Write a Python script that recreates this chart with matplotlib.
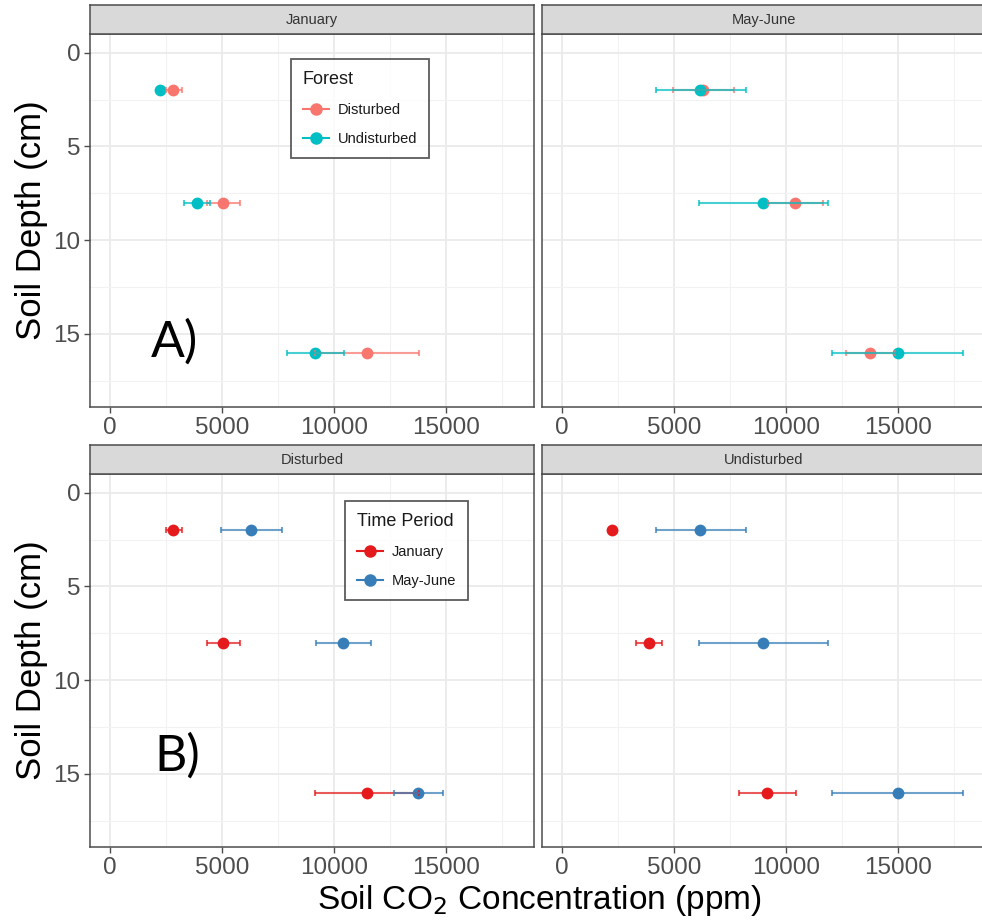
import numpy as np
import matplotlib
matplotlib.use("Agg")
import matplotlib.pyplot as plt
from matplotlib.lines import Line2D

plt.rcParams['font.family'] = ['Liberation Sans', 'DejaVu Sans']

# ---------------- data ----------------
depths = [2, 8, 16]
x_ticks = [0, 5000, 10000, 15000]
y_ticks = [0, 5, 10, 15]

dist_jan = [2806, 5060, 11493]
dist_jan_lo = [2480, 4328, 9179]
dist_jan_hi = [3200, 5806, 13791]

undist_jan = [2240, 3880, 9170]
undist_jan_lo = [np.nan, 3290, 7890]
undist_jan_hi = [np.nan, 4470, 10455]

dist_may = [6310, 10410, 13770]
dist_may_lo = [4945, 9200, 12670]
dist_may_hi = [7670, 11660, 14870]

undist_may = [6184, 8985, 15000]
undist_may_lo = [4177, 6125, 12071]
undist_may_hi = [8221, 11877, 17928]

forest_levels = ["Disturbed", "Undisturbed"]
period_levels = ["January", "May-June"]
forest_colors = ["#F8766D", "#00BFC4"]
period_colors = ["#E41A1C", "#377EB8"]

# ---------------- figure ----------------
W, H = 982, 924
fig = plt.figure(figsize=(W / 100, H / 100), dpi=100)

def px_axes(x0, y0, x1, y1):
    return fig.add_axes([x0 / W, 1 - y1 / H, (x1 - x0) / W, (y1 - y0) / H])

panel_w = 444
lefts = [90, 542]
tops = [34, 474]
plot_h = 373
strip_h = 29

XLIM = (-900, 18950)
YLIM = (18.9, -1.0)

def style_panel(ax, show_y=True):
    ax.set_xlim(*XLIM)
    ax.set_ylim(*YLIM)
    ax.set_facecolor("white")
    ax.set_xticks(x_ticks)
    ax.set_yticks(y_ticks)
    ax.set_xticks([2500, 7500, 12500, 17500], minor=True)
    ax.set_yticks([2.5, 7.5, 12.5, 17.5], minor=True)
    ax.grid(True, which="major", color="#EBEBEB", linewidth=1.3, zorder=0)
    ax.grid(True, which="minor", color="#F2F2F2", linewidth=0.8, zorder=0)
    ax.set_axisbelow(True)
    for s in ax.spines.values():
        s.set_color("#4D4D4D")
        s.set_linewidth(1.1)
    ax.tick_params(which="major", length=4, width=1, color="#4D4D4D",
                   labelsize=17.5, labelcolor="#4D4D4D", pad=3)
    ax.tick_params(which="minor", length=0)
    ax.set_xticklabels([str(t) for t in x_ticks])
    if show_y:
        ax.set_yticklabels([str(t) for t in y_ticks])
    else:
        ax.tick_params(axis="y", which="major", length=0, labelleft=False)

def strip(x0, y0, label):
    sa = px_axes(x0, y0 - strip_h, x0 + panel_w, y0)
    sa.set_facecolor("#D9D9D9")
    sa.set_xticks([]); sa.set_yticks([])
    for s in sa.spines.values():
        s.set_color("#4D4D4D")
        s.set_linewidth(1.1)
    sa.text(0.5, 0.48, label, ha="center", va="center", fontsize=10.5,
            color="#333333", transform=sa.transAxes)

def draw_series(ax, vals, lo, hi, color):
    ax.plot(vals, depths, "o", color=color, markersize=8.5, zorder=3,
            markeredgewidth=0)

def draw_err(ax, vals, lo, hi, color):
    v = np.array(vals, float)
    lo = np.array(lo, float); hi = np.array(hi, float)
    ok = ~np.isnan(lo)
    d = np.array(depths, float)[ok]
    ax.errorbar(v[ok], d, xerr=[v[ok] - lo[ok], hi[ok] - v[ok]], fmt="none",
                ecolor=color, elinewidth=1.5, capsize=2.5, capthick=1.5,
                alpha=0.72, zorder=4)

panels = [
    (0, 0, "January", [(dist_jan, dist_jan_lo, dist_jan_hi, forest_colors[0]),
                       (undist_jan, undist_jan_lo, undist_jan_hi, forest_colors[1])]),
    (1, 0, "May-June", [(dist_may, dist_may_lo, dist_may_hi, forest_colors[0]),
                        (undist_may, undist_may_lo, undist_may_hi, forest_colors[1])]),
    (0, 1, "Disturbed", [(dist_jan, dist_jan_lo, dist_jan_hi, period_colors[0]),
                         (dist_may, dist_may_lo, dist_may_hi, period_colors[1])]),
    (1, 1, "Undisturbed", [(undist_jan, undist_jan_lo, undist_jan_hi, period_colors[0]),
                           (undist_may, undist_may_lo, undist_may_hi, period_colors[1])]),
]

axes = {}
for col, row, label, series in panels:
    x0 = lefts[col]; y0 = tops[row]
    ax = px_axes(x0, y0, x0 + panel_w, y0 + plot_h)
    style_panel(ax, show_y=(col == 0))
    for s in series:
        draw_series(ax, *s)
    for s in series:
        draw_err(ax, *s)
    strip(x0, y0, label)
    axes[(col, row)] = ax
    if col == 0:
        ax.set_ylabel("Soil Depth (cm)", fontsize=25, color="black", labelpad=4)

def make_legend(ax, title, labels, colors, anchor):
    handles = [Line2D([0], [0], color=c, marker="o", markersize=8, linewidth=1.5)
               for c in colors]
    leg = ax.legend(handles, labels, title=title, loc="upper left",
                    bbox_to_anchor=anchor, frameon=True, fancybox=False,
                    fontsize=10.5, title_fontsize=13, handlelength=1.8,
                    handletextpad=0.6, labelspacing=1.05, borderpad=0.8,
                    alignment="left")
    fr = leg.get_frame()
    fr.set_edgecolor("#333333")
    fr.set_linewidth(1.3)
    for t in leg.get_texts():
        t.set_color("#1A1A1A")
    leg.get_title().set_color("#1A1A1A")
    leg.set_zorder(10)

make_legend(axes[(0, 0)], "Forest", forest_levels, forest_colors, (0.437, 0.952))
make_legend(axes[(0, 1)], "Time Period", period_levels, period_colors, (0.558, 0.947))

axes[(0, 0)].text(0.138, 0.135, "A)", transform=axes[(0, 0)].transAxes,
                  fontsize=36, family=["Lato", "DejaVu Sans"], ha="left", va="baseline")
axes[(0, 1)].text(0.145, 0.205, "B)", transform=axes[(0, 1)].transAxes,
                  fontsize=36, family=["Lato", "DejaVu Sans"], ha="left", va="baseline")

fig.text(539 / W, 1 - 900 / H, "Soil CO$_2$ Concentration (ppm)", ha="center",
         va="center", fontsize=24, color="black")

fig.savefig("out.png", dpi=100, facecolor="white")
